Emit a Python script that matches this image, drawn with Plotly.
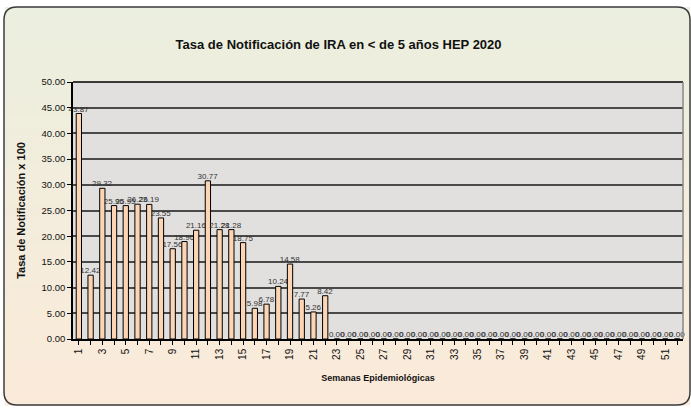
import plotly.graph_objects as go

weeks = list(range(1, 53))
rates = [43.87, 12.42, 29.32, 25.96, 25.95, 26.23, 26.19, 23.55, 17.56, 18.96,
         21.16, 30.77, 21.28, 21.28, 18.75, 5.98, 6.78, 10.24, 14.58, 7.77,
         5.26, 8.42] + [0.00] * 30
tick_labels = [str(w) if w % 2 == 1 else "" for w in weeks]

title_text = "Tasa de Notificación de IRA en < de 5 años HEP 2020"
y_title = "Tasa de Notificación x 100"
x_title = "Semanas Epidemiológicas"

W, H = 691, 408
ML, MR, MT, MB = 73, 8, 82, 69
PW, PH = W - ML - MR, H - MT - MB

def px(x):
    return (x - ML) / PW

def py(y):
    return (H - MB - y) / PH

FONT = "Liberation Sans, Arial"

fig = go.Figure()
fig.add_trace(go.Bar(
    x=weeks, y=rates, width=0.45,
    marker=dict(color="#FCD5B4", line=dict(color="#000000", width=1)),
    text=[f"{v:.2f}" for v in rates], textposition="outside",
    textfont=dict(family=FONT, size=8, color="#333333"),
    cliponaxis=False, constraintext="none",
))

shapes = []
# background gradient bands inside the rounded panel
top, bot, left, right = 7, 405, 4, 690
c0 = (235, 239, 223)
c1 = (251, 234, 217)
n = 40
for i in range(n):
    y0 = top + (bot - top) * i / n
    y1 = top + (bot - top) * (i + 1) / n
    t = (i + 0.5) / n
    c = tuple(round(c0[k] + (c1[k] - c0[k]) * t) for k in range(3))
    shapes.append(dict(type="rect", xref="paper", yref="paper",
                       x0=px(left + 1), x1=px(right), y0=py(y1 + 0.5), y1=py(y0),
                       fillcolor=f"rgb{c}", line=dict(width=0), layer="below"))
# plot area background
shapes.append(dict(type="rect", xref="paper", yref="paper", x0=0, x1=1, y0=0, y1=1,
                   fillcolor="#E2E0DE", line=dict(width=0), layer="below"))
# rounded border
r = 13
path = (f"M {px(left + r)},{py(top)} L {px(right - r)},{py(top)} "
        f"Q {px(right)},{py(top)} {px(right)},{py(top + r)} "
        f"L {px(right)},{py(bot - r)} Q {px(right)},{py(bot)} {px(right - r)},{py(bot)} "
        f"L {px(left + r)},{py(bot)} Q {px(left)},{py(bot)} {px(left)},{py(bot - r)} "
        f"L {px(left)},{py(top + r)} Q {px(left)},{py(top)} {px(left + r)},{py(top)} Z")
shapes.append(dict(type="path", xref="paper", yref="paper", path=path,
                   line=dict(color="#3A3A3A", width=1.5), layer="above"))

fig.update_layout(
    width=W, height=H,
    margin=dict(l=ML, r=MR, t=MT, b=MB, autoexpand=False),
    paper_bgcolor="#FFFFFF",
    plot_bgcolor="#E2E0DE",
    showlegend=False,
    shapes=shapes,
    title=dict(text=f"<b>{title_text}</b>", x=0.49, xanchor="center",
               y=1 - 44 / H, yanchor="middle",
               font=dict(family=FONT, size=13, color="#111111")),
    font=dict(family=FONT, color="#111111"),
    bargap=0.5,
)
fig.update_xaxes(
    range=[0.5, 52.5], tickmode="array", tickvals=weeks, ticktext=tick_labels,
    tickangle=-90, ticks="outside", ticklen=4, tickcolor="#000000",
    tickfont=dict(family=FONT, size=10, color="#111111"),
    showline=True, linecolor="#000000", linewidth=1.5, mirror=False,
    showgrid=False, zeroline=False, automargin=False,
    title=dict(text=f"<b>{x_title}</b>", standoff=16,
               font=dict(family=FONT, size=9, color="#111111")),
)
fig.update_yaxes(
    range=[0, 50], dtick=5, tickformat=".2f",
    ticks="outside", ticklen=4, tickcolor="#000000",
    tickfont=dict(family=FONT, size=9.5, color="#111111"),
    showline=True, linecolor="#000000", linewidth=1.5,
    showgrid=True, gridcolor="#4A4A4A", gridwidth=1.5, zeroline=False,
    automargin=False,
    title=dict(text=f"<b>{y_title}</b>", standoff=14,
               font=dict(family=FONT, size=11, color="#111111")),
)
# plot-area frame (top & right)
fig.add_shape(type="line", xref="paper", yref="paper", x0=0, x1=1, y0=1, y1=1,
              line=dict(color="#000000", width=1.5))
fig.add_shape(type="line", xref="paper", yref="paper", x0=1, x1=1, y0=0, y1=1,
              line=dict(color="#888888", width=1.5))

fig.write_html("out.html", config={"displayModeBar": False},
               post_script="document.body.style.margin='0';document.body.style.overflow='hidden';")
